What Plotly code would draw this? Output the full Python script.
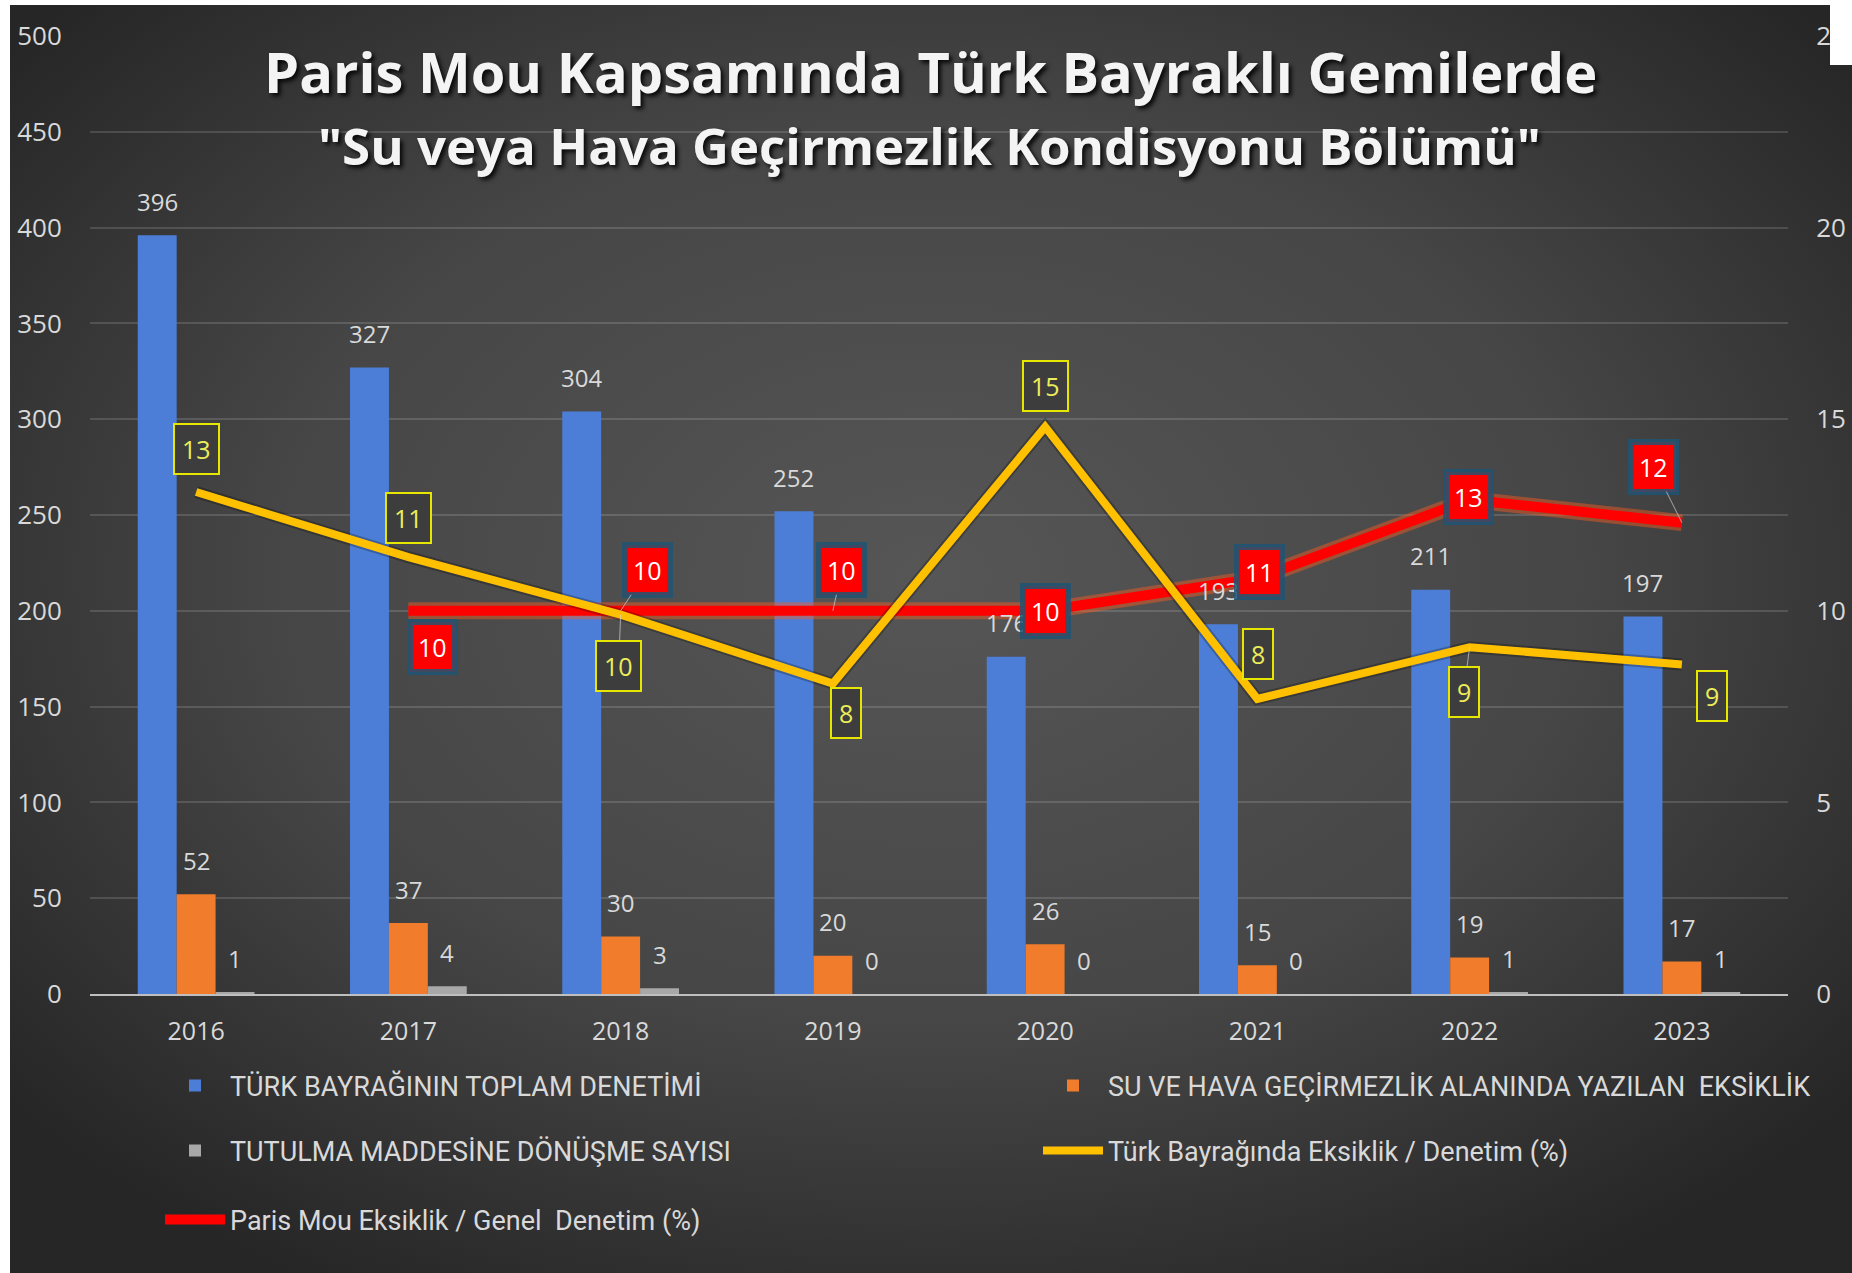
import plotly.graph_objects as go
from urllib.parse import quote

# ---------------- data ----------------
years = ["2016", "2017", "2018", "2019", "2020", "2021", "2022", "2023"]
total_inspections = [396, 327, 304, 252, 176, 193, 211, 197]
watertight_deficiencies = [52, 37, 30, 20, 26, 15, 19, 17]
detention_grounds = [1, 4, 3, 0, 0, 0, 1, 1]
turk_flag_ratio = [13.1, 11.4, 9.9, 8.1, 14.8, 7.7, 9.05, 8.6]
paris_mou_ratio = [None, 10.0, 10.0, 10.0, 10.0, 10.85, 12.9, 12.3]

left_ticks = [0, 50, 100, 150, 200, 250, 300, 350, 400, 450, 500]
right_ticks = [0, 5, 10, 15, 20, 25]

series_names = [
    "TÜRK BAYRAĞININ TOPLAM DENETİMİ",
    "SU VE HAVA GEÇİRMEZLİK ALANINDA YAZILAN  EKSİKLİK",
    "TUTULMA MADDESİNE DÖNÜŞME SAYISI",
    "Türk Bayrağında Eksiklik / Denetim (%)",
    "Paris Mou Eksiklik / Genel  Denetim (%)",
]
title_line1 = "Paris Mou Kapsamında Türk Bayraklı Gemilerde"
title_line2 = "\"Su veya Hava Geçirmezlik Kondisyonu Bölümü\""

# ---------------- layout geometry (pixels) ----------------
W, H = 1852, 1273
ML, MR, MT, MB = 90, 64, 36, 279
PW = W - ML - MR
PH = H - MT - MB


def px_x(px):
    return (px - ML) / PW


def px_y(py):
    return (H - MB - py) / PH


BARGAP = 0.45
bar_w = PW / len(years) * (1 - BARGAP) / 3

TXT = "#d9d9d9"
FONT = "Open Sans, Noto Sans, sans-serif"
LEG_FONT = "Roboto, Noto Sans, sans-serif"

fig = go.Figure()

bar_colors = ["#4c7ed8", "#f07c2c", "#a8a8a8"]
bar_values = [total_inspections, watertight_deficiencies, detention_grounds]
bar_legends = ["legend", "legend2", "legend3"]
for vals, name, color, lg in zip(bar_values, series_names[:3], bar_colors, bar_legends):
    fig.add_trace(go.Bar(
        x=years, y=vals, name=name, legend=lg,
        marker=dict(color=color, line=dict(width=0)),
        hoverinfo="x+y",
    ))

# red line glow + red line
fig.add_trace(go.Scatter(
    x=years, y=paris_mou_ratio, yaxis="y2", mode="lines",
    line=dict(color="rgba(255,90,30,0.45)", width=17),
    showlegend=False, hoverinfo="skip",
))
fig.add_trace(go.Scatter(
    x=years, y=paris_mou_ratio, yaxis="y2", mode="lines", name=series_names[4],
    legend="legend5", line=dict(color="#ff0000", width=10),
))
# yellow line shadow + yellow line
fig.add_trace(go.Scatter(
    x=years, y=turk_flag_ratio, yaxis="y2", mode="lines",
    line=dict(color="rgba(0,0,0,0.25)", width=12),
    showlegend=False, hoverinfo="skip",
))
fig.add_trace(go.Scatter(
    x=years, y=turk_flag_ratio, yaxis="y2", mode="lines", name=series_names[3],
    legend="legend4", line=dict(color="#ffc000", width=8),
))

annotations = []

# bar value labels (x given as category index)
shifts = [-bar_w, 0, bar_w]
for vals, xs in zip(bar_values, shifts):
    for i, v in enumerate(vals):
        annotations.append(dict(
            x=i, y=v, xref="x", yref="y", xshift=xs, yshift=34,
            text=str(v), showarrow=False, yanchor="middle",
            font=dict(family=FONT, size=24, color=TXT),
        ))

# yellow (Türk bayrağı) labels
y_off = [(0, -43), (0, -39), (-2, 51), (13, 29), (0, -41), (1, -45), (-6, 45), (30, 32)]
y_leader = [False, False, True, False, False, False, True, False]
for i, (v, (ax, ay), lead) in enumerate(zip(turk_flag_ratio, y_off, y_leader)):
    annotations.append(dict(
        x=i, y=v, xref="x", yref="y2", ax=ax, ay=ay,
        text=str(round(v)), showarrow=True, arrowhead=0, arrowwidth=1,
        arrowcolor="rgba(210,210,210,0.7)" if lead else "rgba(0,0,0,0)",
        font=dict(family=FONT, size=25, color="#ecec5a"),
        bgcolor="#3d3d3d", bordercolor="#e6e600", borderwidth=2, borderpad=7,
    ))

# red (Paris MoU) labels
r_off = [None, (24, 36), (27, -41), (9, -41), (0, 0), (2, -6), (-1, -3), (-28, -56)]
r_leader = [False, False, True, True, False, False, False, True]
for i, (v, off, lead) in enumerate(zip(paris_mou_ratio, r_off, r_leader)):
    if v is None:
        continue
    annotations.append(dict(
        x=i, y=v, xref="x", yref="y2", ax=off[0], ay=off[1],
        text=str(round(v)), showarrow=True, arrowhead=0, arrowwidth=1,
        arrowcolor="rgba(210,210,210,0.7)" if lead else "rgba(0,0,0,0)",
        font=dict(family=FONT, size=25, color="#ffffff"),
        bgcolor="#ff0000", bordercolor="rgba(30,85,115,0.85)", borderwidth=6, borderpad=5,
    ))

# title lines
annotations.append(dict(
    x=px_x(930), y=px_y(71), xref="paper", yref="paper", showarrow=False,
    text="<b>" + title_line1 + "</b>", xanchor="center", yanchor="middle",
    font=dict(family=FONT, size=56, color="#f4f4f4", shadow="3px 3px 4px rgba(0,0,0,0.85)"),
))
annotations.append(dict(
    x=px_x(929), y=px_y(145), xref="paper", yref="paper", showarrow=False,
    text="<b>" + title_line2 + "</b>", xanchor="center", yanchor="middle",
    font=dict(family=FONT, size=51, color="#f4f4f4", shadow="3px 3px 4px rgba(0,0,0,0.85)"),
))

# background gradient
svg = ("<svg xmlns='http://www.w3.org/2000/svg' width='1842' height='1268' viewBox='0 0 1842 1268' preserveAspectRatio='none'>"
       "<defs><radialGradient id='g' cx='50%' cy='45%' r='65%'>"
       "<stop offset='0' stop-color='#565656'/><stop offset='0.55' stop-color='#464646'/>"
       "<stop offset='1' stop-color='#262626'/></radialGradient></defs>"
       "<rect width='1842' height='1268' fill='url(#g)'/></svg>")
bg_src = "data:image/svg+xml;charset=utf-8," + quote(svg)

legend_common = dict(
    orientation="h", bgcolor="rgba(0,0,0,0)", borderwidth=0, itemwidth=60,
    font=dict(family=LEG_FONT, size=27, color=TXT), xanchor="left", yanchor="middle",
)
col1, col2 = 160, 1038
row1, row2, row3 = 1086, 1151, 1220

fig.update_layout(
    width=W, height=H,
    margin=dict(l=ML, r=MR, t=MT, b=MB, autoexpand=False),
    paper_bgcolor="#ffffff", plot_bgcolor="rgba(0,0,0,0)",
    font=dict(family=FONT, color=TXT),
    barmode="group", bargap=BARGAP, bargroupgap=0,
    xaxis=dict(
        type="category", range=[-0.5, len(years) - 0.5], autorange=False,
        showline=True, linecolor="#bfbfbf", linewidth=2,
        ticks="outside", ticklen=14, tickcolor="rgba(0,0,0,0)",
        tickfont=dict(size=25, color=TXT), showgrid=False,
    ),
    yaxis=dict(
        range=[0, 500], autorange=False, tickvals=left_ticks, showgrid=True,
        gridcolor="rgba(255,255,255,0.14)", gridwidth=1.5, zeroline=False,
        ticks="outside", ticklen=22, tickcolor="rgba(0,0,0,0)",
        tickfont=dict(size=26, color=TXT),
    ),
    yaxis2=dict(
        range=[0, 25], autorange=False, tickvals=right_ticks, overlaying="y", side="right",
        showgrid=False, zeroline=False,
        ticks="outside", ticklen=22, tickcolor="rgba(0,0,0,0)",
        tickfont=dict(size=26, color=TXT),
    ),
    legend=dict(x=px_x(col1), y=px_y(row1), **legend_common),
    legend2=dict(x=px_x(col2), y=px_y(row1), **legend_common),
    legend3=dict(x=px_x(col1), y=px_y(row2), **legend_common),
    legend4=dict(x=px_x(col2), y=px_y(row2), **legend_common),
    legend5=dict(x=px_x(col1), y=px_y(row3), **legend_common),
    annotations=annotations,
    images=[dict(
        source=bg_src, xref="paper", yref="paper",
        x=px_x(10), y=px_y(5), sizex=(W - 10) / PW, sizey=(H - 5) / PH,
        xanchor="left", yanchor="top", sizing="stretch", layer="below",
    )],
    shapes=[dict(
        type="rect", xref="paper", yref="paper", layer="above",
        x0=px_x(1830), x1=px_x(W + 5), y0=px_y(65), y1=px_y(-5),
        fillcolor="#ffffff", line=dict(width=0),
    )],
    showlegend=True,
)

fig.write_html(
    "out.html",
    config={"displayModeBar": False},
    post_script="document.body.style.margin='0';document.body.style.overflow='hidden';",
)
